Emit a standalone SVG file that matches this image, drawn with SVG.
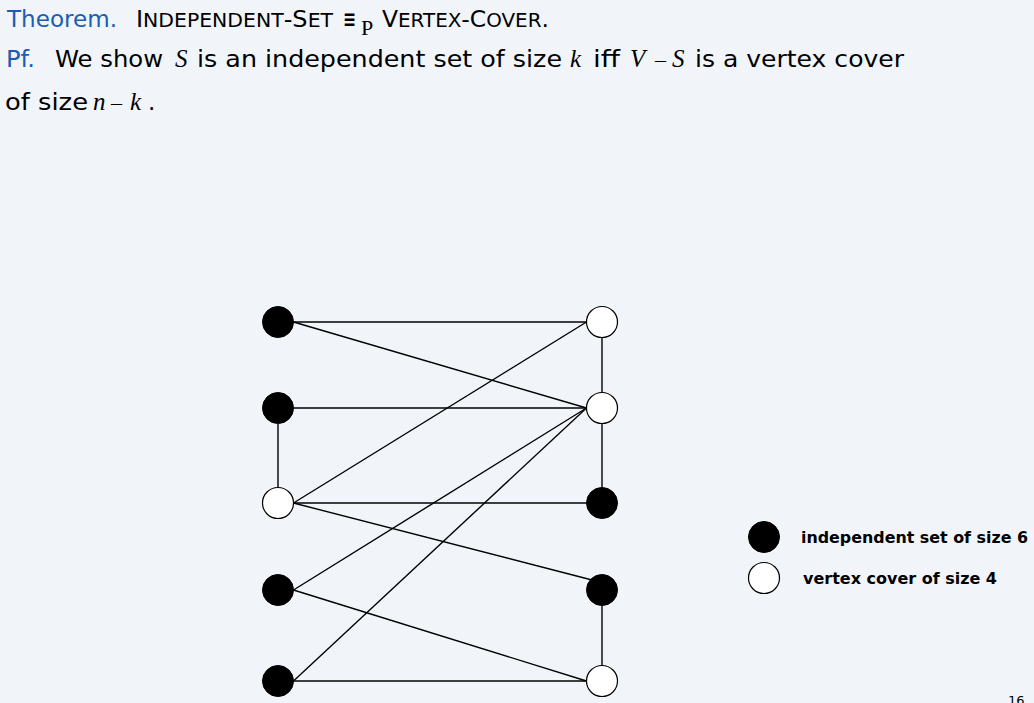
<svg xmlns="http://www.w3.org/2000/svg" width="1034" height="703" viewBox="0 0 1034 703">
<style>
.bg{fill:#f1f5f9}
.t{font-family:"DejaVu Sans","Liberation Sans",sans-serif;font-size:23px;fill:#000}
.blue{fill:#1a5db4}
.m{font-family:"Liberation Serif","DejaVu Serif",serif;font-style:italic;font-size:25px;fill:#000}
.op{font-family:"Liberation Serif","DejaVu Serif",serif;font-size:22px;fill:#000}
.sc{font-size:19.5px}
.e{stroke:#000;stroke-width:1.4;fill:none}
.nb{fill:#000;stroke:#000;stroke-width:1}
.nw{fill:#fff;stroke:#000;stroke-width:1.2}
.lg{font-family:"DejaVu Sans","Liberation Sans",sans-serif;font-weight:bold;font-size:16px;fill:#000}
.pg{font-family:"DejaVu Sans","Liberation Sans",sans-serif;font-size:13px;fill:#000}
</style>
<rect class="bg" x="0" y="0" width="1034" height="703"/>
<g id="header">
<text class="t blue" x="7" y="27" textLength="110" lengthAdjust="spacingAndGlyphs">Theorem.</text>
<text class="t" x="136" y="27" textLength="197" lengthAdjust="spacingAndGlyphs" font-size="24">I<tspan class="sc">NDEPENDENT</tspan>-S<tspan class="sc">ET</tspan></text>
<text class="t" x="343" y="27" font-size="17" font-weight="bold" textLength="13" lengthAdjust="spacingAndGlyphs">≡</text>
<text class="op" x="361" y="35" font-size="15">P</text>
<text class="t" x="382" y="27" textLength="167" lengthAdjust="spacingAndGlyphs" font-size="24">V<tspan class="sc">ERTEX</tspan>-C<tspan class="sc">OVER</tspan>.</text>
<text class="t blue" x="6" y="67" textLength="29" lengthAdjust="spacingAndGlyphs">Pf.</text>
<text class="t" x="55" y="67" textLength="108" lengthAdjust="spacingAndGlyphs">We show</text>
<text class="m" x="175" y="67">S</text>
<text class="t" x="197" y="67" textLength="365" lengthAdjust="spacingAndGlyphs">is an independent set of size</text>
<text class="m" x="570" y="67">k</text>
<text class="t" x="593" y="67" textLength="27" lengthAdjust="spacingAndGlyphs">iff</text>
<text class="m" x="630" y="67">V</text>
<text class="op" x="655" y="67">–</text>
<text class="m" x="672" y="67">S</text>
<text class="t" x="695" y="67" textLength="209" lengthAdjust="spacingAndGlyphs">is a vertex cover</text>
<text class="t" x="5" y="110" textLength="83" lengthAdjust="spacingAndGlyphs">of size</text>
<text class="m" x="93" y="110">n</text>
<text class="op" x="111" y="110">–</text>
<text class="m" x="130" y="110">k</text>
<text class="t" x="148" y="110">.</text>
</g>
<g id="connectors">
<line class="e" x1="293.5" y1="322" x2="586.5" y2="322"/>
<line class="e" x1="293.5" y1="322" x2="586.5" y2="408"/>
<line class="e" x1="293.5" y1="408" x2="586.5" y2="408"/>
<line class="e" x1="278" y1="423.5" x2="278" y2="487.5"/>
<line class="e" x1="293.5" y1="503" x2="586.5" y2="322"/>
<line class="e" x1="293.5" y1="503" x2="586.5" y2="503"/>
<line class="e" x1="293.5" y1="503" x2="592" y2="580"/>
<line class="e" x1="293.5" y1="590" x2="586.5" y2="408"/>
<line class="e" x1="293.5" y1="681" x2="586.5" y2="408"/>
<line class="e" x1="293.5" y1="590" x2="586.5" y2="681"/>
<line class="e" x1="293.5" y1="681" x2="586.5" y2="681"/>
<line class="e" x1="602" y1="337.5" x2="602" y2="392.5"/>
<line class="e" x1="602" y1="423.5" x2="602" y2="487.5"/>
<line class="e" x1="602" y1="605.5" x2="602" y2="665.5"/>
</g>
<g id="L1"><circle class="nb" cx="278" cy="322" r="15.5"/></g>
<g id="L2"><circle class="nb" cx="278" cy="408" r="15.5"/></g>
<g id="L3"><circle class="nw" cx="278" cy="503" r="15.5"/></g>
<g id="L4"><circle class="nb" cx="278" cy="590" r="15.5"/></g>
<g id="L5"><circle class="nb" cx="278" cy="681" r="15.5"/></g>
<g id="R1"><circle class="nw" cx="602" cy="322" r="15.5"/></g>
<g id="R2"><circle class="nw" cx="602" cy="408" r="15.5"/></g>
<g id="R3"><circle class="nb" cx="602" cy="503" r="15.5"/></g>
<g id="R4"><circle class="nb" cx="602" cy="590" r="15.5"/></g>
<g id="R5"><circle class="nw" cx="602" cy="681" r="15.5"/></g>
<g id="legend">
<circle class="nb" cx="764" cy="537" r="15.5"/>
<text class="lg" x="801" y="543" textLength="227" lengthAdjust="spacingAndGlyphs">independent set of size 6</text>
<circle class="nw" cx="764" cy="578" r="15.5"/>
<text class="lg" x="803" y="584" textLength="194" lengthAdjust="spacingAndGlyphs">vertex cover of size 4</text>
</g>
<text class="pg" x="1008" y="705">16</text>
</svg>
